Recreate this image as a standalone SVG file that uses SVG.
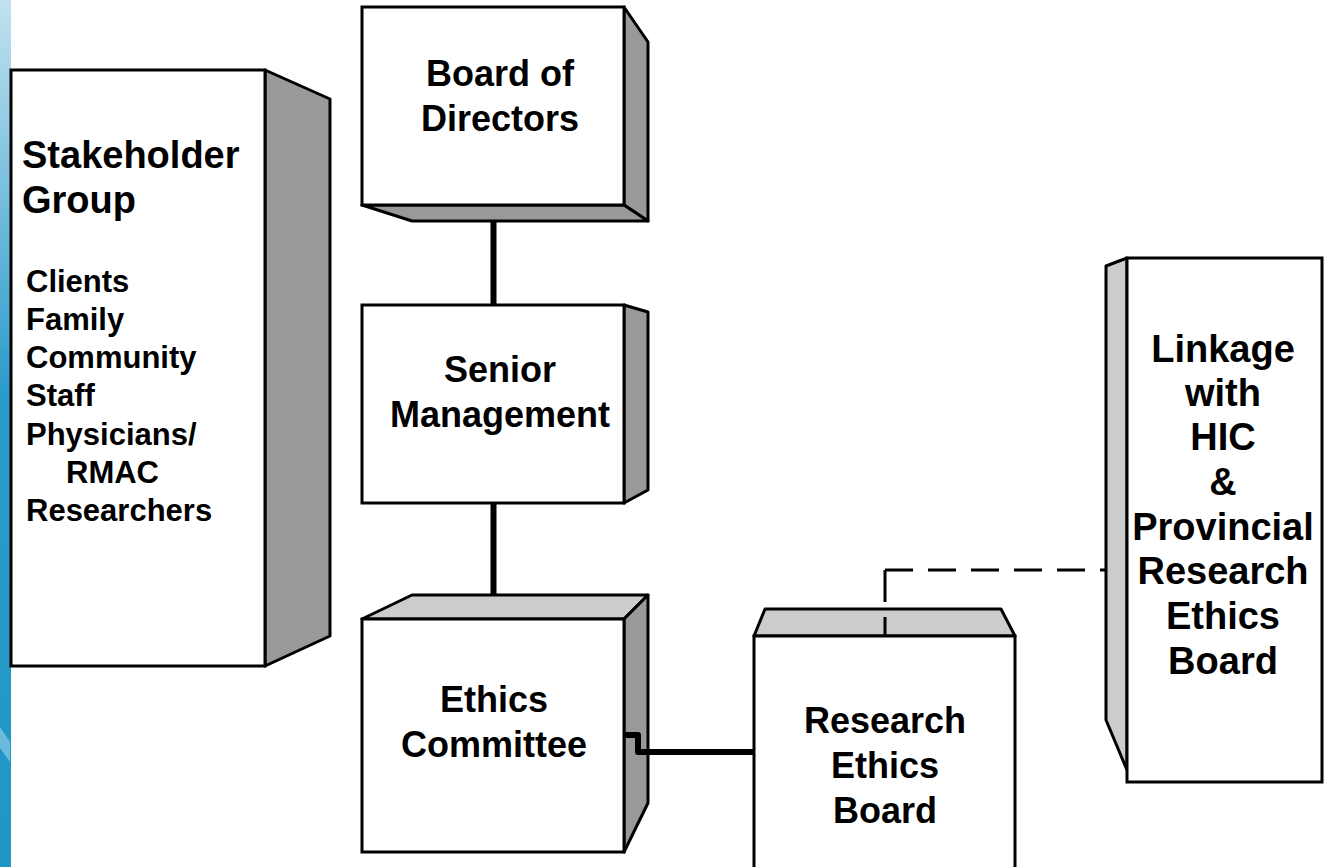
<svg xmlns="http://www.w3.org/2000/svg" width="1324" height="867" viewBox="0 0 1324 867">
<defs>
<linearGradient id="strip" x1="0" y1="0" x2="0" y2="1">
<stop offset="0" stop-color="#c2e2ef"/>
<stop offset="0.45" stop-color="#2c9bcb"/>
<stop offset="1" stop-color="#1f96c5"/>
</linearGradient>
</defs>
<style>
.face{fill:#ffffff;stroke:#000;stroke-width:3;stroke-linejoin:miter}
.dark{fill:#999999;stroke:#000;stroke-width:3;stroke-linejoin:round}
.light{fill:#cccccc;stroke:#000;stroke-width:3;stroke-linejoin:round}
.t{font-family:"Liberation Sans",Arial,sans-serif;font-weight:bold;font-size:36px;fill:#000;text-anchor:middle}
.tk{font-family:"Liberation Sans",Arial,sans-serif;font-weight:bold;font-size:38px;fill:#000;text-anchor:middle}
.ts{font-family:"Liberation Sans",Arial,sans-serif;font-weight:bold;font-size:38px;fill:#000}
.tl{font-family:"Liberation Sans",Arial,sans-serif;font-weight:bold;font-size:31px;fill:#000}
.conn{fill:none;stroke:#000;stroke-width:6}
.dash{fill:none;stroke:#000;stroke-width:3}
</style>
<rect width="1324" height="867" fill="#ffffff"/>
<rect x="0" y="0" width="11" height="867" fill="url(#strip)"/>
<polygon points="0,727 10,742 10,762 0,748" fill="#6bbbdc"/>

<g id="stakeholder">
<polygon class="dark" points="265,70 330,99 330,636 265,666"/>
<rect class="face" x="11" y="70" width="254" height="596"/>
<text class="ts" x="22" y="168">Stakeholder</text>
<text class="ts" x="22" y="213">Group</text>
<text class="tl" x="26" y="292">Clients</text>
<text class="tl" x="26" y="330">Family</text>
<text class="tl" x="26" y="368">Community</text>
<text class="tl" x="26" y="406">Staff</text>
<text class="tl" x="26" y="445">Physicians/</text>
<text class="tl" x="66" y="483">RMAC</text>
<text class="tl" x="26" y="521">Researchers</text>
</g>

<g id="board">
<polygon class="dark" points="624,7 648,42 648,221 624,205"/>
<polygon class="dark" points="362,205 624,205 648,221 412,221"/>
<rect class="face" x="362" y="7" width="262" height="198"/>
<text class="t" x="500" y="86">Board of</text>
<text class="t" x="500" y="131">Directors</text>
</g>

<g id="senior">
<polygon class="dark" points="624,305 648,312 648,490 624,503"/>
<rect class="face" x="362" y="305" width="262" height="198"/>
<text class="t" x="500" y="382">Senior</text>
<text class="t" x="500" y="427">Management</text>
</g>

<g id="ethics-committee">
<polygon class="light" points="362,619 412,595 648,595 624,619"/>
<polygon class="dark" points="624,619 648,595 648,803 624,852"/>
<rect class="face" x="362" y="619" width="262" height="233"/>
<text class="t" x="494" y="712">Ethics</text>
<text class="t" x="494" y="757">Committee</text>
</g>

<g id="research-ethics-board">
<polygon class="light" points="754,636 765,609 1001,609 1015,636"/>
<rect class="face" x="754" y="636" width="261" height="240"/>
<text class="t" x="885" y="733">Research</text>
<text class="t" x="885" y="778">Ethics</text>
<text class="t" x="885" y="823">Board</text>
</g>

<g id="linkage">
<polygon class="light" points="1127,258 1106,266 1106,720 1127,770"/>
<rect class="face" x="1127" y="258" width="195" height="524"/>
<text class="tk" x="1223" y="362">Linkage</text>
<text class="tk" x="1223" y="406">with</text>
<text class="tk" x="1223" y="450">HIC</text>
<text class="tk" x="1223" y="495">&amp;</text>
<text class="tk" x="1223" y="540">Provincial</text>
<text class="tk" x="1223" y="584">Research</text>
<text class="tk" x="1223" y="629">Ethics</text>
<text class="tk" x="1223" y="674">Board</text>
</g>

<g id="connectors">
<line class="conn" x1="493.5" y1="222" x2="493.5" y2="305"/>
<line class="conn" x1="493.5" y1="503" x2="493.5" y2="595"/>
<path class="conn" d="M625,735 H638 V752 H755" stroke-linejoin="round"/>
<line class="dash" x1="885" y1="570" x2="885" y2="636" stroke-dasharray="32 15"/>
<line class="dash" x1="885" y1="570" x2="1105" y2="570" stroke-dasharray="28 15"/>
</g>
</svg>
